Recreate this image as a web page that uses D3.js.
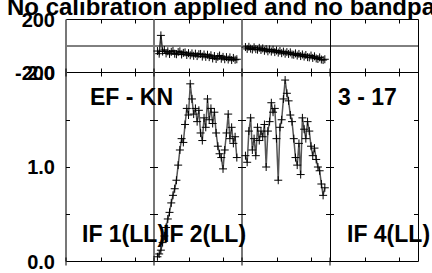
<!DOCTYPE html>
<html>
<head>
<meta charset="utf-8">
<script src="https://cdn.jsdelivr.net/npm/d3@7"></script>
<style>
  body { margin: 0; background: #fff; }
  svg { display: block; font-family: "Liberation Sans", Arial, sans-serif; font-weight: bold; }
</style>
</head>
<body>
<svg id="chart"></svg>
<script>
const width = 432;
const height = 273;

const title = "No calibration applied and no bandpass";
const baseline = "EF - KN";
const scanLabel = "3 - 17";
const ifNames = ["IF 1(LL)", "IF 2(LL)", "IF 3(LL)", "IF 4(LL)"];
const showIfLabel = [true, true, false, true];

const channels = [2,3,4,5,6,7,8,9,10,11,12,13,14,15,16,17,18,19,20,21,22,23,24,25,
  26,27,28,29,30,31,32,33,34,35,36,37,38,39,40,41,42,43,44,45,46,47,48];

// amplitude per channel, IF 2 and IF 3 (IF 1 and IF 4 are empty)
const ampIF2 = [0.05,0.08,0.12,0.20,0.27,0.36,0.45,0.52,0.62,0.70,0.77,0.86,1.02,1.18,1.30,1.26,
  1.45,1.62,1.55,1.88,1.72,1.56,1.62,1.48,1.60,1.36,1.28,1.52,1.42,1.72,1.50,1.62,
  1.46,1.58,1.36,1.22,1.14,1.10,0.98,1.18,1.36,1.56,1.30,1.42,1.25,1.32,1.10];
const ampIF3 = [1.12,1.05,1.38,1.52,1.18,1.30,1.12,1.42,1.28,1.38,1.32,1.45,1.00,1.38,1.48,1.68,
  1.58,1.62,1.30,0.86,1.42,1.50,1.72,1.92,1.78,1.70,1.55,1.48,1.30,1.10,1.02,1.25,
  0.92,1.52,1.40,1.30,1.48,1.38,1.22,1.12,1.20,1.08,1.00,0.96,0.82,0.70,0.78];

// phase (degrees)
const phaseIF2 = [-38,-58,80,-42,-30,-56,-40,-60,-44,-36,-58,-62,-46,-40,-64,-52,
  -48,-68,-54,-70,-56,-74,-58,-76,-62,-60,-80,-64,-82,-66,-84,-70,
  -94,-76,-98,-82,-72,-96,-82,-100,-84,-102,-86,-106,-90,-104,-100];
const phaseIF3 = [-8,-22,-6,-20,-26,-10,-24,-28,-14,-30,-18,-36,-24,-40,-26,-42,
  -28,-46,-34,-50,-38,-54,-42,-58,-46,-60,-48,-64,-66,-56,-72,-60,
  -76,-64,-80,-68,-84,-86,-72,-90,-78,-94,-98,-86,-102,-106,-100];

const ampData = [null, ampIF2, ampIF3, null];
const phaseData = [null, phaseIF2, phaseIF3, null];

const phaseTicks = [200, -200];
const ampTicks = [2.0, 1.0, 0.0];
const chanTicks = [20, 40];

const left = 66, panelW = 88;
const topPh = 19.5, botPh = 72.5, botAmp = 261.5;

const svg = d3.select("#chart").attr("width", width).attr("height", height);

const yPh = d3.scaleLinear().domain([-200, 200]).range([botPh, topPh]);
const yAmp = d3.scaleLinear().domain([0, 2]).range([botAmp, botPh]);
const panelX = i => d3.scaleLinear().domain([0, 51]).range([left + i * panelW, left + (i + 1) * panelW]);

// title (runs off the page like the original)
svg.append("text").attr("x", 7).attr("y", 15).attr("font-size", 24).text(title);

const g = svg.append("g");

// --- FRAME ---
const right = left + 4 * panelW;
[topPh, yPh(0), botPh, botAmp].forEach(y => {
  g.append("line").attr("x1", left).attr("x2", right + 0.5).attr("y1", y).attr("y2", y)
    .attr("stroke", "#000").attr("stroke-width", 1);
});
for (let i = 0; i <= 4; i++) {
  const x = left + i * panelW;
  const grey = i < 3;
  g.append("line").attr("x1", grey ? x : x + 0.5).attr("x2", grey ? x : x + 0.5)
    .attr("y1", topPh).attr("y2", botAmp)
    .attr("stroke", grey ? "#777" : "#000").attr("stroke-width", grey ? 2 : 1);
}

// --- TICKS ---
const tl = 4;
for (let i = 0; i < 4; i++) {
  const x = panelX(i);
  chanTicks.forEach(c => {
    const cx = Math.round(x(c)) + 0.5;
    [[topPh, topPh + tl], [botPh - tl, botPh + tl], [botAmp - tl, botAmp]].forEach(([a, b]) => {
      g.append("line").attr("x1", cx).attr("x2", cx).attr("y1", a).attr("y2", b)
        .attr("stroke", "#000");
    });
  });
  // crosses at the panel corners
  const px = left + i * panelW;
  [botPh, botAmp].forEach(y => {
    g.append("line").attr("x1", px).attr("x2", px).attr("y1", y - tl).attr("y2", y + tl).attr("stroke", "#000");
  });
}
[0.5, 1.0, 1.5].forEach(v => {
  const y = Math.round(yAmp(v)) + 0.5;
  for (let i = 0; i <= 4; i++) {
    const x = left + i * panelW;
    g.append("line").attr("x1", i === 0 ? x : x - tl).attr("x2", i === 4 ? x : x + tl)
      .attr("y1", y).attr("y2", y).attr("stroke", "#000");
  }
});

// --- TICK LABELS ---
const lab = svg.append("g").attr("font-size", 20).attr("text-anchor", "end")
  .attr("dominant-baseline", "central");
phaseTicks.forEach(v => lab.append("text").attr("x", 55).attr("y", yPh(v)).text(v));
ampTicks.forEach(v => lab.append("text").attr("x", 55).attr("y", yAmp(v)).text(v.toFixed(1)));

// --- DATA ---
const plus = (sel, xs, ys, vals) => {
  vals.forEach((v, k) => {
    const px = xs(channels[k]), py = ys(v);
    sel.append("path").attr("d", `M${px - 4},${py}H${px + 4}M${px},${py - 4}V${py + 4}`)
      .attr("stroke", "#000").attr("stroke-width", 1).attr("fill", "none");
  });
};

for (let i = 0; i < 4; i++) {
  const x = panelX(i);
  if (ampData[i]) {
    const line = d3.line().x((d, k) => x(channels[k])).y(d => yAmp(d));
    g.append("path").datum(ampData[i]).attr("d", line)
      .attr("fill", "none").attr("stroke", "#555").attr("stroke-width", 1.5);
    plus(g, x, yAmp, ampData[i]);
  }
  if (phaseData[i]) {
    const line = d3.line().x((d, k) => x(channels[k])).y(d => yPh(d));
    g.append("path").datum(phaseData[i]).attr("d", line)
      .attr("fill", "none").attr("stroke", "#333").attr("stroke-width", 1.5);
    plus(g, x, yPh, phaseData[i]);
  }
}

// --- LABELS ---
const big = svg.append("g").attr("font-size", 23);
big.append("text").attr("x", 90).attr("y", 105).text(baseline);
big.append("text").attr("x", 338).attr("y", 105).text(scanLabel);
const ifX = [82, 163, null, 347];
ifNames.forEach((n, i) => {
  if (showIfLabel[i]) big.append("text").attr("x", ifX[i]).attr("y", 242).text(n);
});
</script>
</body>
</html>
